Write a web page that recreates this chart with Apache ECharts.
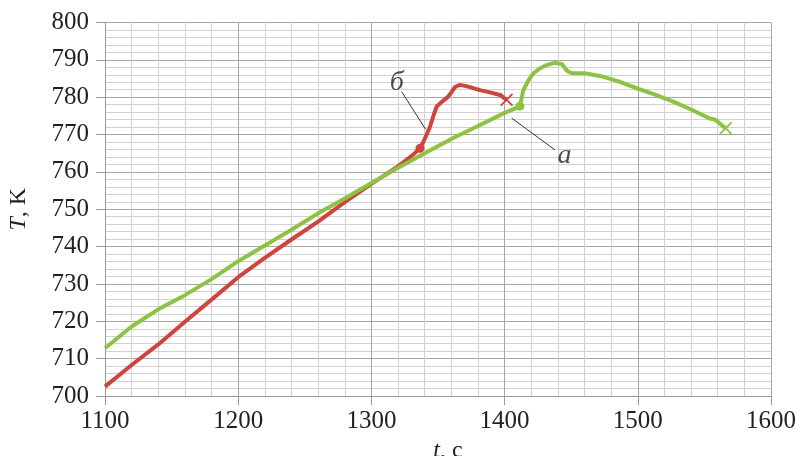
<!DOCTYPE html>
<html lang="ru" style="height: 100%">
<head>
    <meta charset="utf-8">
</head>
<body style="height: 100%; margin: 0; background: #fff">
    <div id="container" style="width: 796px; height: 456px"></div>
    <script src="https://cdn.jsdelivr.net/npm/echarts@6/dist/echarts.min.js"></script>
    <script>
        // кривая а (зелёная)
        var tA = [1100, 1120, 1140, 1160, 1180, 1200, 1220, 1240, 1260, 1280, 1300, 1320, 1340, 1360, 1380, 1400, 1408, 1411.5,
            1414, 1418, 1421.5, 1426, 1431.5, 1437.5, 1443, 1447, 1450.5, 1460, 1471.5, 1485, 1499, 1512, 1526.5, 1540, 1554, 1558, 1562, 1566];
        var TA = [712.8, 718.6, 723.2, 727.0, 731.3, 736.1, 740.3, 744.5, 748.9, 752.9, 757.0, 761.1, 765.0, 768.8, 772.3, 775.8, 777.0, 777.6,
            781.8, 784.6, 786.4, 787.6, 788.6, 789.2, 788.9, 787.0, 786.4, 786.4, 785.7, 784.3, 782.4, 780.8, 778.8, 776.7, 774.3, 774.0, 772.8, 771.7];

        // кривая б (красная)
        var tB = [1100, 1120, 1140, 1160, 1180, 1200, 1220, 1240, 1260, 1280, 1300, 1320, 1330, 1336.5, 1340, 1344, 1347, 1349,
            1353, 1357.5, 1361, 1363, 1366.5, 1372, 1381.5, 1389, 1396.5, 1401.5];
        var TB = [702.5, 708.3, 713.8, 719.9, 725.8, 731.8, 737.0, 741.9, 746.7, 751.9, 756.8, 761.5, 764.2, 766.3, 768.8, 772.1, 775.5, 777.5,
            778.8, 780.1, 781.8, 782.8, 783.3, 782.9, 781.9, 781.3, 780.6, 779.3];

        // подписи кривых и выноски
        var labelNames = ['а', 'б'];
        var labelPos = [[1445, 764.3], [1319, 783.8]];
        var leaderA = [[1405.3, 774.4], [1437.8, 765.9]];
        var leaderB = [[1322.7, 781.5], [1340.7, 771.4]];

        var green = '#8dc43f';
        var red = '#d2433d';
        var textColor = '#231f20';
        var font = 'Liberation Serif';
        var cross = 'path://M0,1L1,0L5,4L9,0L10,1L6,5L10,9L9,10L5,6L1,10L0,9L4,5Z';

        function pairs(xs, ys, blobIdx, endColor) {
            return xs.map(function (x, i) {
                var item = { value: [x, ys[i]] };
                if (i === xs.length - 1) {
                    item.symbol = cross;
                    item.symbolSize = 13;
                    item.itemStyle = { color: endColor };
                } else if (i === blobIdx) {
                    item.symbol = 'circle';
                    item.symbolSize = 9;
                    item.itemStyle = { color: endColor };
                }
                return item;
            });
        }

        var chart = echarts.init(document.getElementById('container'), null, { renderer: 'canvas' });

        var option = {
            animation: false,
            backgroundColor: '#fff',
            grid: { left: 105, right: 25, top: 22.5, bottom: 60, containLabel: false, outerBoundsMode: 'none' },
            xAxis: {
                type: 'value',
                min: 1100, max: 1600, interval: 100,
                name: '{i|t}, c',
                nameLocation: 'middle',
                nameGap: 36,
                nameTextStyle: {
                    fontFamily: font, fontSize: 24, color: textColor, padding: [0, 0, 0, 20],
                    rich: { i: { fontFamily: font, fontSize: 24, fontStyle: 'italic', color: textColor } }
                },
                axisLine: { show: true, lineStyle: { color: '#9a9a9a', width: 1 } },
                axisTick: { show: true, length: 9, lineStyle: { color: '#9a9a9a' } },
                axisLabel: {
                    margin: 13, fontFamily: font, fontSize: 25, color: textColor,
                    formatter: function (v) { return String(v); }
                },
                splitLine: { show: true, lineStyle: { color: '#a6a6a6', width: 1 } },
                minorTick: { show: false, splitNumber: 5 },
                minorSplitLine: { show: true, lineStyle: { color: '#d2d2d2', width: 1 } }
            },
            yAxis: {
                type: 'value',
                min: 700, max: 800, interval: 10,
                name: '{i|T}, K',
                nameLocation: 'middle',
                nameRotate: 90,
                nameGap: 74,
                nameTextStyle: {
                    fontFamily: font, fontSize: 24, color: textColor,
                    rich: { i: { fontFamily: font, fontSize: 24, fontStyle: 'italic', color: textColor } }
                },
                axisLine: { show: true, lineStyle: { color: '#9a9a9a', width: 1 } },
                axisTick: { show: true, length: 9, lineStyle: { color: '#9a9a9a' } },
                axisLabel: {
                    margin: 16, fontFamily: font, fontSize: 25, color: textColor,
                    formatter: function (v) { return String(v); }
                },
                splitLine: { show: true, lineStyle: { color: '#a6a6a6', width: 1 } },
                minorTick: { show: false, splitNumber: 5 },
                minorSplitLine: { show: true, lineStyle: { color: '#d2d2d2', width: 1 } }
            },
            series: [
                {
                    type: 'line',
                    data: pairs(tB, TB, 13, red),
                    showSymbol: true,
                    symbol: 'none',
                    lineStyle: { color: red, width: 4 },
                    itemStyle: { color: red },
                    z: 3
                },
                {
                    type: 'line',
                    data: pairs(tA, TA, 17, green),
                    showSymbol: true,
                    symbol: 'none',
                    lineStyle: { color: green, width: 4 },
                    itemStyle: { color: green },
                    z: 4
                },
                {
                    type: 'line',
                    data: leaderA,
                    symbol: 'none',
                    silent: true,
                    lineStyle: { color: '#333', width: 1 },
                    z: 5
                },
                {
                    type: 'line',
                    data: leaderB,
                    symbol: 'none',
                    silent: true,
                    lineStyle: { color: '#333', width: 1 },
                    z: 5
                },
                {
                    type: 'scatter',
                    symbolSize: 0,
                    silent: true,
                    data: labelPos.map(function (p, i) { return { value: p, name: labelNames[i] }; }),
                    label: {
                        show: true,
                        position: 'inside',
                        formatter: '{b}',
                        fontFamily: font,
                        fontSize: 28,
                        fontStyle: 'italic',
                        color: textColor
                    },
                    z: 6
                }
            ]
        };

        chart.setOption(option);
    </script>
</body>
</html>
